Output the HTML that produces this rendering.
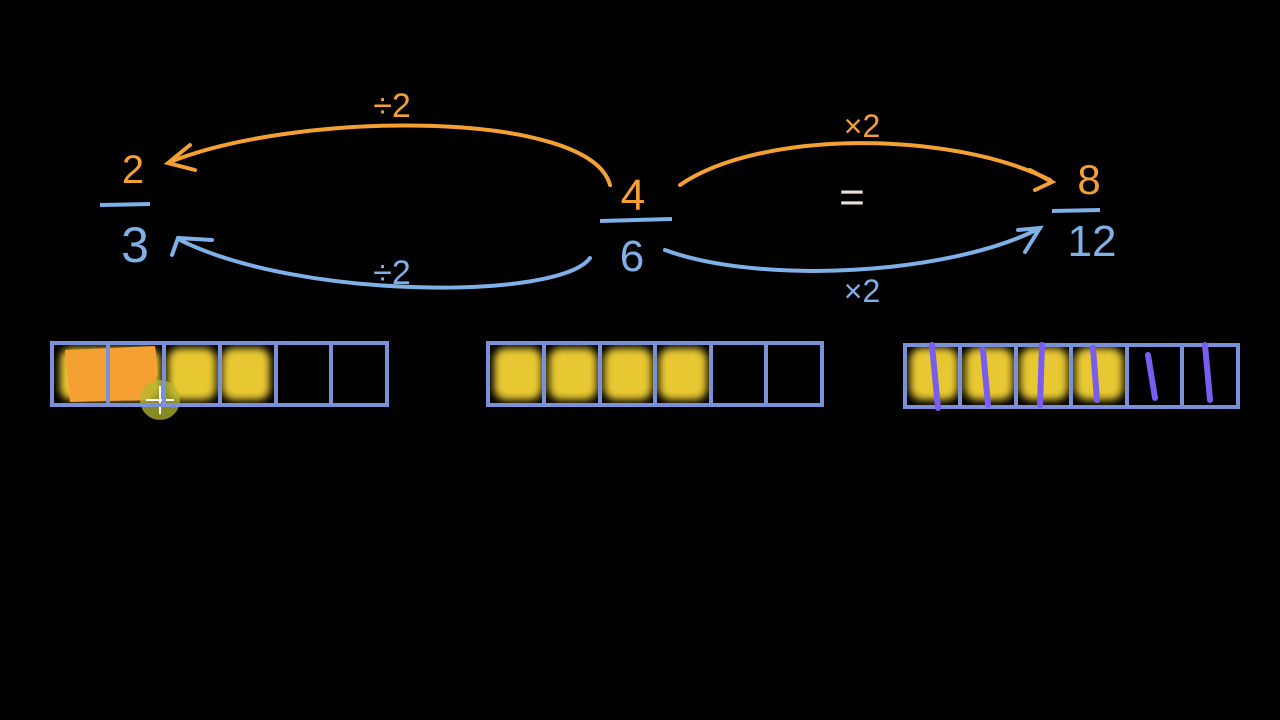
<!DOCTYPE html>
<html><head><style>body{margin:0;background:#000}svg{display:block}</style></head><body>
<svg width="1280" height="720" viewBox="0 0 1280 720" xmlns="http://www.w3.org/2000/svg">
<defs>
<filter id="b"><feGaussianBlur stdDeviation="4"/></filter>
</defs>
<rect width="1280" height="720" fill="#000"/>
<g font-family="Liberation Sans, sans-serif" text-anchor="middle">
<text x="133" y="183" font-size="40" fill="#f5a033">2</text>
<line x1="100" y1="205" x2="150" y2="204" stroke="#7fb0e8" stroke-width="4"/>
<text x="135" y="262" font-size="50" fill="#7fb0e8">3</text>
<text x="633" y="210" font-size="44" fill="#f5a033">4</text>
<line x1="600" y1="221" x2="672" y2="219" stroke="#7fb0e8" stroke-width="4"/>
<text x="632" y="271" font-size="44" fill="#7fb0e8">6</text>
<text x="1089" y="194" font-size="42" fill="#f5a033">8</text>
<line x1="1052" y1="211" x2="1100" y2="210" stroke="#7fb0e8" stroke-width="4"/>
<text x="1092" y="256" font-size="44" fill="#7fb0e8">12</text>
<text x="852" y="212" font-size="44" fill="#e8e0d8">=</text>
<text x="392" y="117" font-size="34" fill="#f5a033">÷2</text>
<text x="862" y="137" font-size="32" fill="#f5a033">×2</text>
<text x="392" y="284" font-size="34" fill="#7fb0e8">÷2</text>
<text x="862" y="302" font-size="32" fill="#7fb0e8">×2</text>
</g>
<g fill="none" stroke-width="4" stroke-linecap="round">
<path d="M610 185 C590 110 300 110 170 162" stroke="#f5a033"/>
<path d="M190 145 L168 163 L195 170" stroke="#f5a033"/>
<path d="M680 185 C760 130 950 130 1050 180" stroke="#f5a033"/>
<path d="M1030 170 L1052 182 L1035 190" stroke="#f5a033"/>
<path d="M590 258 C560 300 300 300 180 240" stroke="#7fb0e8"/>
<path d="M172 255 L178 238 L212 240" stroke="#7fb0e8"/>
<path d="M665 250 C760 285 950 275 1040 228" stroke="#7fb0e8"/>
<path d="M1018 230 L1040 228 L1025 252" stroke="#7fb0e8"/>
</g>
<g fill="#e8c832" filter="url(#b)">
<rect x="60" y="348" width="100" height="52" rx="12"/>
<rect x="168" y="348" width="48" height="52" rx="12"/>
<rect x="222" y="348" width="48" height="52" rx="12"/>
<rect x="494" y="348" width="48" height="52" rx="12"/>
<rect x="549" y="348" width="48" height="52" rx="12"/>
<rect x="604" y="348" width="48" height="52" rx="12"/>
<rect x="659" y="348" width="48" height="52" rx="12"/>
<rect x="910" y="348" width="48" height="52" rx="12"/>
<rect x="965" y="348" width="48" height="52" rx="12"/>
<rect x="1020" y="348" width="48" height="52" rx="12"/>
<rect x="1075" y="348" width="48" height="52" rx="12"/>
</g>
<path d="M65 350 L155 346 L158 372 L150 400 L70 402 Z" fill="#f5a033"/>
<circle cx="160" cy="400" r="20" fill="#b5b830" opacity="0.75"/>
<g stroke="#fff" stroke-width="2"><line x1="160" y1="386" x2="160" y2="414"/><line x1="146" y1="400" x2="174" y2="400"/></g>
<g fill="none" stroke="#7a90d8" stroke-width="4">
<rect x="52" y="343" width="335" height="62"/>
<path d="M108 343V405M164 343V405M220 343V405M276 343V405M331 343V405"/>
<rect x="488" y="343" width="334" height="62"/>
<path d="M544 343V405M600 343V405M655 343V405M711 343V405M766 343V405"/>
<rect x="905" y="345" width="333" height="62"/>
<path d="M960 345V407M1016 345V407M1071 345V407M1127 345V407M1182 345V407"/>
</g>
<g stroke="#7b5cf0" stroke-width="6" stroke-linecap="round" fill="none">
<path d="M932 345 L938 408"/><path d="M983 350 L988 405"/><path d="M1042 345 L1040 405"/>
<path d="M1093 348 L1097 400"/><path d="M1148 355 L1155 398"/><path d="M1205 345 L1210 400"/>
</g>
</svg>
</body></html>
